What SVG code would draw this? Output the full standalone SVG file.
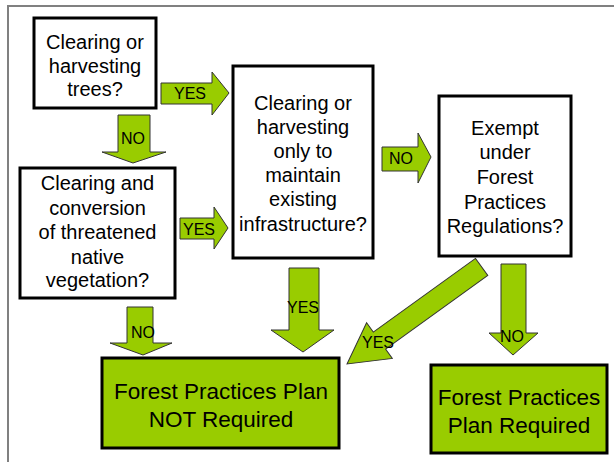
<svg xmlns="http://www.w3.org/2000/svg" width="615" height="462" viewBox="0 0 615 462">
<style>
.frame{stroke:#808080;stroke-width:2;fill:none}
.q{fill:#ffffff;stroke:#000000;stroke-width:3}
.res{fill:#99cc00;stroke:#000000;stroke-width:3}
.arrow{fill:#99cc00;stroke:#333333;stroke-width:1}
text{font-family:"Liberation Sans",Arial,sans-serif;fill:#000000;text-anchor:middle}
.t{font-size:20px}
.big{font-size:22.5px}
.lbl{font-size:16px}
</style>
<rect width="615" height="462" fill="#ffffff"/>
<path class="frame" d="M7,6 H614 M8,6 V462"/>
<g id="connectors">
  <g id="yes1"><polygon class="arrow" points="161,83 212,83 212,72 229,93 212,115 212,104 161,104"/><text class="lbl" x="190" y="99">YES</text></g>
  <g id="no1"><polygon class="arrow" points="118,115 150,115 150,152 166,152 133,163 102,152 118,152"/><text class="lbl" x="133" y="144">NO</text></g>
  <g id="no2"><polygon class="arrow" points="382,147 418,147 418,133 431,157 418,183 418,171 382,171"/><text class="lbl" x="401" y="164">NO</text></g>
  <g id="yes3"><polygon class="arrow" points="180,218 214,218 214,207 228,228 214,249 214,239 180,239"/><text class="lbl" x="199" y="234.5">YES</text></g>
  <g id="yes4"><polygon class="arrow" points="289,268 319,268 319,330 334,330 303,352 271,330 289,330"/><text class="lbl" x="303" y="313">YES</text></g>
  <g id="no3"><polygon class="arrow" points="127,307 153,307 153,343 172,343 143,355 110,343 127,343"/><text class="lbl" x="143" y="338">NO</text></g>
  <g id="yes5"><polygon class="arrow" transform="translate(347,364) rotate(-35.8)" points="0,0 40,-22 40,-10.5 166,-10.5 166,10.5 40,10.5 40,22"/><text class="lbl" x="378" y="348">YES</text></g>
  <g id="no4"><polygon class="arrow" points="501,264 526,264 526,333 538,333 513,355 489,333 501,333"/><text class="lbl" x="512" y="342">NO</text></g>
</g>
<g id="q1"><rect class="q" x="34" y="18" width="122" height="90"/>
  <text class="t" x="95" y="49">Clearing or</text><text class="t" x="95" y="73">harvesting</text><text class="t" x="95" y="96">trees?</text></g>
<g id="q2"><rect class="q" x="233" y="66" width="140" height="192"/>
  <text class="t" x="303" y="110">Clearing or</text><text class="t" x="303" y="134">harvesting</text><text class="t" x="303" y="158">only to</text><text class="t" x="303" y="182">maintain</text><text class="t" x="303" y="206">existing</text><text class="t" x="303" y="231">infrastructure?</text></g>
<g id="q3"><rect class="q" x="439" y="96" width="132" height="160"/>
  <text class="t" x="505" y="135">Exempt</text><text class="t" x="505" y="159">under</text><text class="t" x="505" y="184">Forest</text><text class="t" x="505" y="209">Practices</text><text class="t" x="505" y="233">Regulations?</text></g>
<g id="q4"><rect class="q" x="20" y="168" width="155" height="130"/>
  <text class="t" x="97.5" y="190">Clearing and</text><text class="t" x="97.5" y="215">conversion</text><text class="t" x="97.5" y="239">of threatened</text><text class="t" x="97.5" y="264">native</text><text class="t" x="97.5" y="287">vegetation?</text></g>
<g id="notreq"><rect class="res" x="102" y="358" width="237" height="90"/>
  <text class="big" x="221" y="399">Forest Practices Plan</text><text class="big" x="221" y="427">NOT Required</text></g>
<g id="req"><rect class="res" x="431" y="365" width="176" height="88"/>
  <text class="big" x="519" y="405">Forest Practices</text><text class="big" x="519" y="433">Plan Required</text></g>
</svg>
